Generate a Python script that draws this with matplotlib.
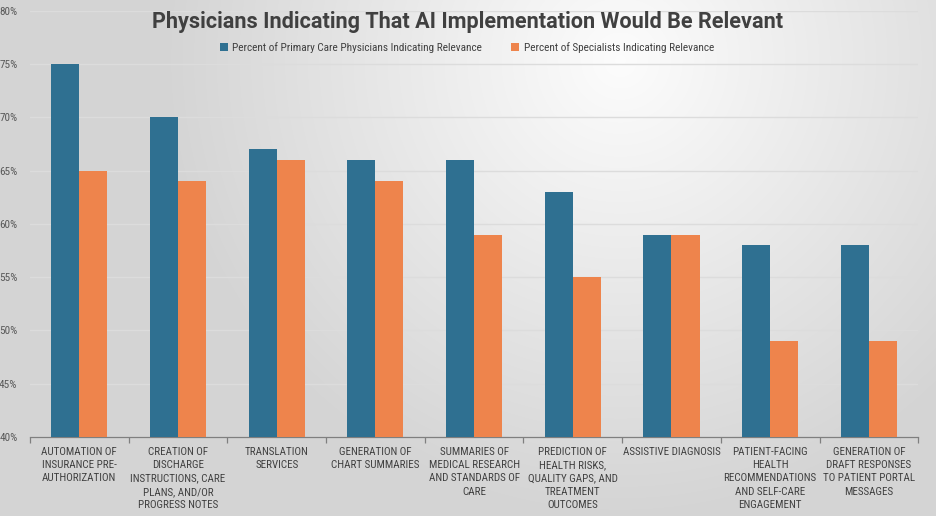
import numpy as np
import matplotlib
matplotlib.use("Agg")
import matplotlib.pyplot as plt
from matplotlib import font_manager

# ==========================================
# DATA
# ==========================================
categories = [
    "AUTOMATION OF\nINSURANCE PRE-\nAUTHORIZATION",
    "CREATION OF\nDISCHARGE\nINSTRUCTIONS, CARE\nPLANS, AND/OR\nPROGRESS NOTES",
    "TRANSLATION\nSERVICES",
    "GENERATION OF\nCHART SUMMARIES",
    "SUMMARIES OF\nMEDICAL RESEARCH\nAND STANDARDS OF\nCARE",
    "PREDICTION OF\nHEALTH RISKS,\nQUALITY GAPS, AND\nTREATMENT\nOUTCOMES",
    "ASSISTIVE DIAGNOSIS",
    "PATIENT-FACING\nHEALTH\nRECOMMENDATIONS\nAND SELF-CARE\nENGAGEMENT",
    "GENERATION OF\nDRAFT RESPONSES\nTO PATIENT PORTAL\nMESSAGES",
]
primary_care = [75, 70, 67, 66, 66, 63, 59, 58, 58]
specialists = [65, 64, 66, 64, 59, 55, 59, 49, 49]
series_names = ["Percent of Primary Care Physicians Indicating Relevance",
                "Percent of Specialists Indicating Relevance"]
y_ticks = [40, 45, 50, 55, 60, 65, 70, 75, 80]

BLUE = "#2f7091"
ORANGE = "#ee844c"
TEXT = "#404040"


def pick_font(candidates):
    for name in candidates:
        try:
            font_manager.findfont(font_manager.FontProperties(family=name),
                                  fallback_to_default=False)
            return name
        except Exception:
            pass
    return "DejaVu Sans"


NARROW = pick_font(["DejaVu Sans Condensed", "Roboto Condensed", "Roboto"])

fig = plt.figure(figsize=(9.36, 5.16), dpi=100)
renderer = fig.canvas.get_renderer()


def fit_size(s, family, target_px, weight="normal"):
    # font size (pt) that makes string s about target_px wide
    t = fig.text(0, 0, s, fontsize=10, family=family, fontweight=weight)
    wpx = t.get_window_extent(renderer).width
    t.remove()
    return 10 * target_px / wpx


# radial gradient background (Excel style)
bg = fig.add_axes([0, 0, 1, 1], zorder=-10)
h, w = 516, 936
yy, xx = np.mgrid[0:h, 0:w]
r = np.sqrt(((xx - 620) / 450.0) ** 2 + ((yy - 60) / 450.0) ** 2)
shade = 0.99 - 0.155 * np.clip(r, 0, 1.0)
bg.imshow(np.dstack([shade] * 3), aspect="auto", extent=[0, 1, 0, 1])
bg.axis("off")

ax = fig.add_axes([0.032, 0.153, 0.949, 0.826])
ax.patch.set_alpha(0)

x = np.arange(len(categories))
bw = 0.284
ax.bar(x - bw / 2, primary_care, bw, color=BLUE, label=series_names[0], zorder=3)
ax.bar(x + bw / 2, specialists, bw, color=ORANGE, label=series_names[1], zorder=3)

ax.set_ylim(40, 80)
ax.set_xlim(-0.5, len(categories) - 0.5)
ax.set_yticks(y_ticks)
ytick_size = fit_size("80%", NARROW, 18)
ax.set_yticklabels([f"{v}%" for v in y_ticks], fontsize=ytick_size, color="#595959",
                   family=NARROW)
ax.tick_params(axis="y", length=0, pad=9)
ax.grid(axis="y", color="#dcdcdc", linewidth=1.0, zorder=0)

# category labels and boundary ticks
lab_size = fit_size("RECOMMENDATIONS", NARROW, 93)
ax.set_xticks(x)
ax.set_xticklabels(categories, fontsize=lab_size, color=TEXT, linespacing=1.42,
                   family=NARROW)
ax.tick_params(axis="x", length=0, pad=7)
ax.set_xticks(np.arange(-0.5, len(categories)), minor=True)
ax.tick_params(axis="x", which="minor", length=4, color="#7f7f7f", width=0.9)

for side in ["top", "right", "left"]:
    ax.spines[side].set_visible(False)
ax.spines["bottom"].set_color("#7f7f7f")
ax.spines["bottom"].set_linewidth(0.9)

title = "Physicians Indicating That AI Implementation Would Be Relevant"
TITLE_FONT = pick_font(["Roboto", "Open Sans"])
fig.text(0.5, 0.958, title, ha="center", va="center",
         fontsize=fit_size(title, TITLE_FONT, 632, "bold"), fontweight="bold",
         color=TEXT, family=TITLE_FONT)
leg_size = fit_size(series_names[0], NARROW, 248)
ax.legend(loc="center", bbox_to_anchor=(0.492, 0.915), ncol=2, frameon=False,
          prop={"family": NARROW, "size": leg_size}, handlelength=0.7,
          handleheight=0.7, columnspacing=2.6, handletextpad=0.4,
          labelcolor=TEXT)

fig.savefig("out.png", dpi=100)
